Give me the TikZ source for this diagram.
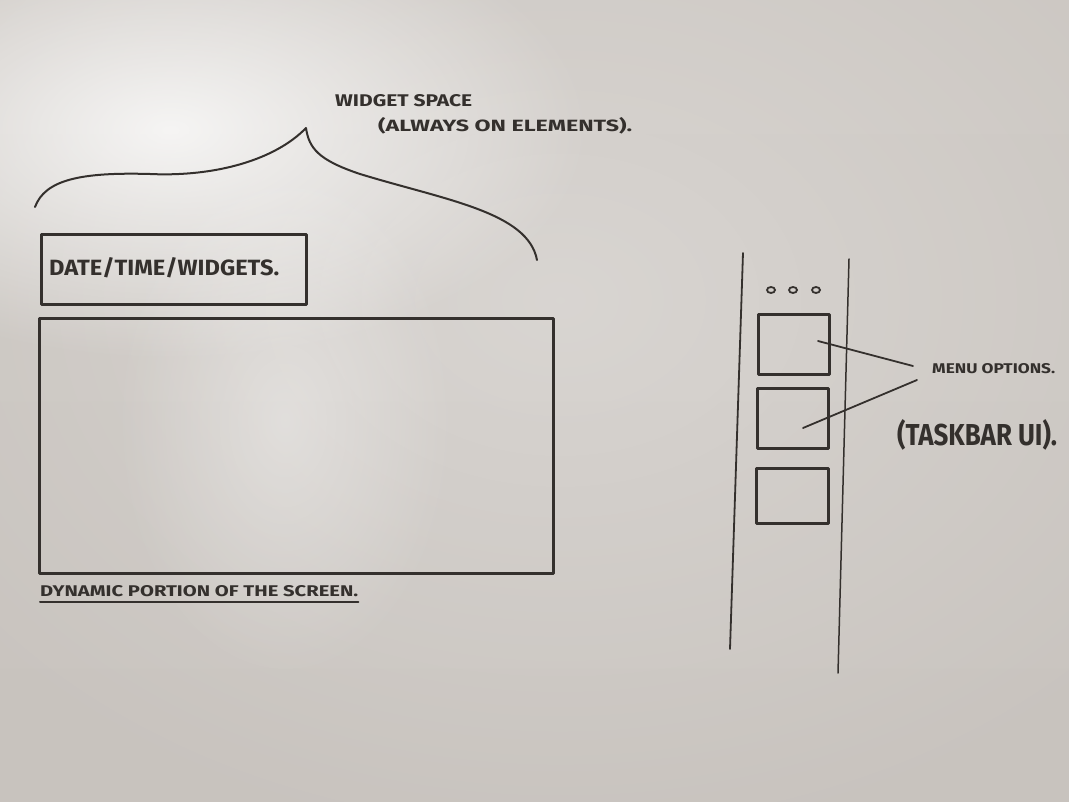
\documentclass[tikz,border=0pt]{standalone}
\usepackage{fontspec}
\setmainfont{Fira Sans}
\usetikzlibrary{fadings,shapes.geometric}
\definecolor{board}{RGB}{203,198,193}
\definecolor{boardlo}{RGB}{200,195,190}
\definecolor{ink}{RGB}{52,48,45}
\tikzfading[name=softglow, inner color=transparent!0, outer color=transparent!100]
\tikzset{
  marker/.style={draw=ink, line width=2.4pt, line cap=round, line join=round},
  thinmarker/.style={draw=ink, line width=1.8pt, line cap=round},
  hand/.style={text=ink, inner sep=0pt, anchor=west},
  panel/.style={marker, line width=3pt, inner sep=0pt},
  dot/.style={draw=ink, line width=1.8pt, ellipse, inner sep=0pt, minimum width=8pt, minimum height=6pt},
  glare/.style={white, path fading=softglow, fit fading=true},
}
% stretched capital lettering: \hw{width}{cap height}{text}
\newcommand{\hw}[3]{\resizebox{#1}{#2}{\bfseries #3}}
\begin{document}
\begin{tikzpicture}[x=1pt,y=-1pt]
  % board
  \shade[top color=board, bottom color=boardlo] (0,0) rectangle (1069,802);
  \useasboundingbox (0,0) rectangle (1069,802);
  % soft light reflections (the fade reaches zero at half the ellipse radius)
  \begin{scope}
    \clip (0,0) rectangle (1069,802);
    \fill[glare, opacity=0.28] (560,300) ellipse [x radius=760pt, y radius=560pt];
    \fill[glare, opacity=0.8] (170,130) ellipse [x radius=420pt, y radius=230pt];
    \fill[glare, opacity=0.35] (285,420) ellipse [x radius=170pt, y radius=260pt];
  \end{scope}

  % curly brace over the widget area
  \coordinate (braceL) at (35,207);
  \coordinate (braceTip) at (306,128);
  \coordinate (braceR) at (537,260);
  \draw[marker, line width=2pt] (braceL)
    .. controls (45,180) and (80,172) .. (150,174)
    .. controls (215,177) and (275,160) .. (braceTip)
    .. controls (309,148) and (318,160) .. (360,174)
    .. controls (445,200) and (528,212) .. (braceR);

  \node[hand] (wlabel) at (335,101) {\hw{137pt}{12pt}{WIDGET SPACE}};
  \node[hand] (wnote) at (378,126) {\hw{254pt}{14pt}{(ALWAYS ON ELEMENTS).}};

  % date / time strip
  \node[panel, minimum width=265pt, minimum height=70pt, anchor=north west] (datebox) at (40,233) {};
  \node[hand] (datetext) at (49,268) {\hw{230pt}{18pt}{DATE/TIME/WIDGETS.}};

  % dynamic screen area
  \node[panel, minimum width=514pt, minimum height=255pt, anchor=north west] (screen) at (38,317) {};
  \node[hand] (dyn) at (40,591) {\hw{318pt}{11pt}{DYNAMIC PORTION OF THE SCREEN.}};
  \draw[thinmarker, line width=2pt] (dyn.south west) ++(0,5) coordinate (ulA) -- ([yshift=-5pt]dyn.south east) coordinate (ulB);

  % taskbar rails
  \coordinate (railLt) at (743,253);
  \coordinate (railLb) at (730,649);
  \coordinate (railRt) at (849,259);
  \coordinate (railRb) at (838,673);
  \draw[thinmarker] (railLt) -- (railLb);
  \draw[thinmarker, line width=1.5pt] (railRt) -- (railRb);

  % window buttons
  \node[dot] (d1) at (771,290) {};
  \node[dot] (d2) at (793,290) {};
  \node[dot] (d3) at (816,290) {};

  % menu option tiles
  \node[panel, minimum width=71pt, minimum height=60pt, anchor=north west] (tile1) at (757,313) {};
  \node[panel, minimum width=71pt, minimum height=60pt, anchor=north west] (tile2) at (756,387) {};
  \node[panel, minimum width=72pt, minimum height=55pt, anchor=north west] (tile3) at (755,467) {};

  % callouts
  \node[hand] (menu) at (932,369) {\hw{123pt}{10pt}{MENU OPTIONS.}};
  \node[hand] (taskbar) at (897,435) {\hw{160pt}{26pt}{(TASKBAR UI).}};
  \coordinate (c1) at (818,341);
  \coordinate (c2) at (803,428);
  \coordinate (m1) at (913,366);
  \coordinate (m2) at (917,380);
  \draw[thinmarker] (c1) -- (m1);
  \draw[thinmarker] (c2) -- (m2);
\end{tikzpicture}
\end{document}
